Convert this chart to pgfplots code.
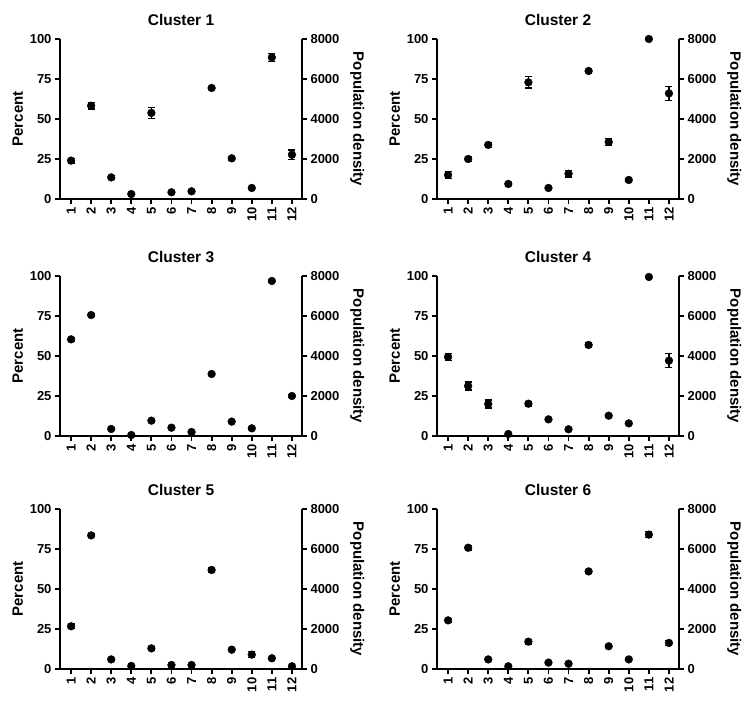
\documentclass[border=0pt]{standalone}
\usepackage{fontspec}
\setmainfont{Liberation Sans}
\usepackage{pgfplots}
\pgfplotsset{compat=1.18}
\pgfplotsset{
  common/.style={
    scale only axis, width=242pt, height=160pt,
    xmin=0.45, xmax=12.5,
    axis line style={line width=2.4pt,-},
    tick style={line width=1.8pt, black},
    major tick length=5pt,
    tick align=outside,
    /pgf/number format/assume math mode=true,
    /pgf/number format/1000 sep={},
    scaled ticks=false,
    ticklabel style={font=\bfseries\fontsize{13}{15}\selectfont},
    label style={font=\bfseries\fontsize{15}{17}\selectfont},
  },
  base/.style={common,
    ymin=0, ymax=100, ytick={0,25,50,75,100},
    axis y line*=left, axis x line*=bottom,
    xtick={1,2,3,4,5,6,7,8,9,10,11,12},
    x tick label style={rotate=90, anchor=east},
    ylabel={Percent},
    title style={font=\bfseries\fontsize{15.5}{17}\selectfont, yshift=4pt},
  },
  rightax/.style={common,
    ymin=0, ymax=8000, ytick={0,2000,4000,6000,8000},
    axis y line*=right, axis x line=none,
    ylabel={Population density},
    ylabel style={rotate=180},
    ylabel shift=4pt,
  },
  pts/.style={only marks, mark=*, mark size=3.9pt, black, mark options={fill=black},
    error bars/.cd, y dir=both, y explicit,
    error bar style={line width=1.3pt, black},
    error mark options={rotate=90, mark size=3.5pt, line width=1.3pt, black}},
}
\newcommand{\panel}[4]{%
  \begin{axis}[base, at={(#1pt,#2pt)}, anchor=south west, title={#3}]
    \addplot+[pts] coordinates {#4};
  \end{axis}
  \begin{axis}[rightax, at={(#1pt,#2pt)}, anchor=south west]
    \addplot[draw=none] coordinates {(1,0)};
  \end{axis}}
\begin{document}
\begin{tikzpicture}
\path[use as bounding box] (0,0) rectangle (754pt,705pt);
\panel{60}{506}{Cluster 1}{(1,24) +- (0,1.5) (2,58.3) +- (0,2) (3,13.5) +- (0,1) (4,3.1) +- (0,0.5) (5,53.8) +- (0,3.5) (6,4.2) +- (0,0.5) (7,4.8) +- (0,0.8) (8,69.4) +- (0,1) (9,25.4) +- (0,1) (10,6.9) +- (0,0.5) (11,88.5) +- (0,2.5) (12,27.7) +- (0,3)}
\panel{437}{506}{Cluster 2}{(1,15) +- (0,2) (2,25) +- (0,1.5) (3,33.8) +- (0,1.5) (4,9.4) +- (0,1) (5,72.9) +- (0,3.5) (6,6.9) +- (0,0.5) (7,15.8) +- (0,2) (8,80) +- (0,1) (9,35.6) +- (0,2) (10,11.9) +- (0,1) (11,100) +- (0,0.3) (12,66) +- (0,4.5)}
\panel{60}{269}{Cluster 3}{(1,60.4) +- (0,1) (2,75.6) +- (0,1) (3,4.4) +- (0,0.5) (4,0.6) +- (0,0.3) (5,9.6) +- (0,0.8) (6,5.2) +- (0,0.5) (7,2.5) +- (0,0.5) (8,38.75) +- (0,0.8) (9,9) +- (0,0.5) (10,4.8) +- (0,0.5) (11,96.9) +- (0,0.8) (12,25) +- (0,1)}
\panel{437}{269}{Cluster 4}{(1,49.4) +- (0,2) (2,31.25) +- (0,2.5) (3,20) +- (0,2.5) (4,1.25) +- (0,0.5) (5,20.2) +- (0,1.5) (6,10.4) +- (0,0.8) (7,4.2) +- (0,0.5) (8,56.9) +- (0,1.5) (9,12.7) +- (0,0.8) (10,7.9) +- (0,0.5) (11,99.4) +- (0,0.3) (12,47.1) +- (0,4.5)}
\panel{60}{36}{Cluster 5}{(1,26.7) +- (0,1.5) (2,83.5) +- (0,0.8) (3,6) +- (0,0.5) (4,1.9) +- (0,0.3) (5,12.9) +- (0,1) (6,2.5) +- (0,0.3) (7,2.5) +- (0,0.5) (8,61.9) +- (0,1.5) (9,12.1) +- (0,0.5) (10,9) +- (0,2) (11,6.7) +- (0,0.5) (12,1.7) +- (0,0.3)}
\panel{437}{36}{Cluster 6}{(1,30.4) +- (0,1) (2,75.8) +- (0,1.5) (3,6) +- (0,0.5) (4,1.7) +- (0,0.3) (5,17.1) +- (0,1.5) (6,4) +- (0,0.5) (7,3.3) +- (0,0.5) (8,61) +- (0,1) (9,14.2) +- (0,0.8) (10,6) +- (0,0.5) (11,84) +- (0,2) (12,16.3) +- (0,1.5)}
\end{tikzpicture}
\end{document}
